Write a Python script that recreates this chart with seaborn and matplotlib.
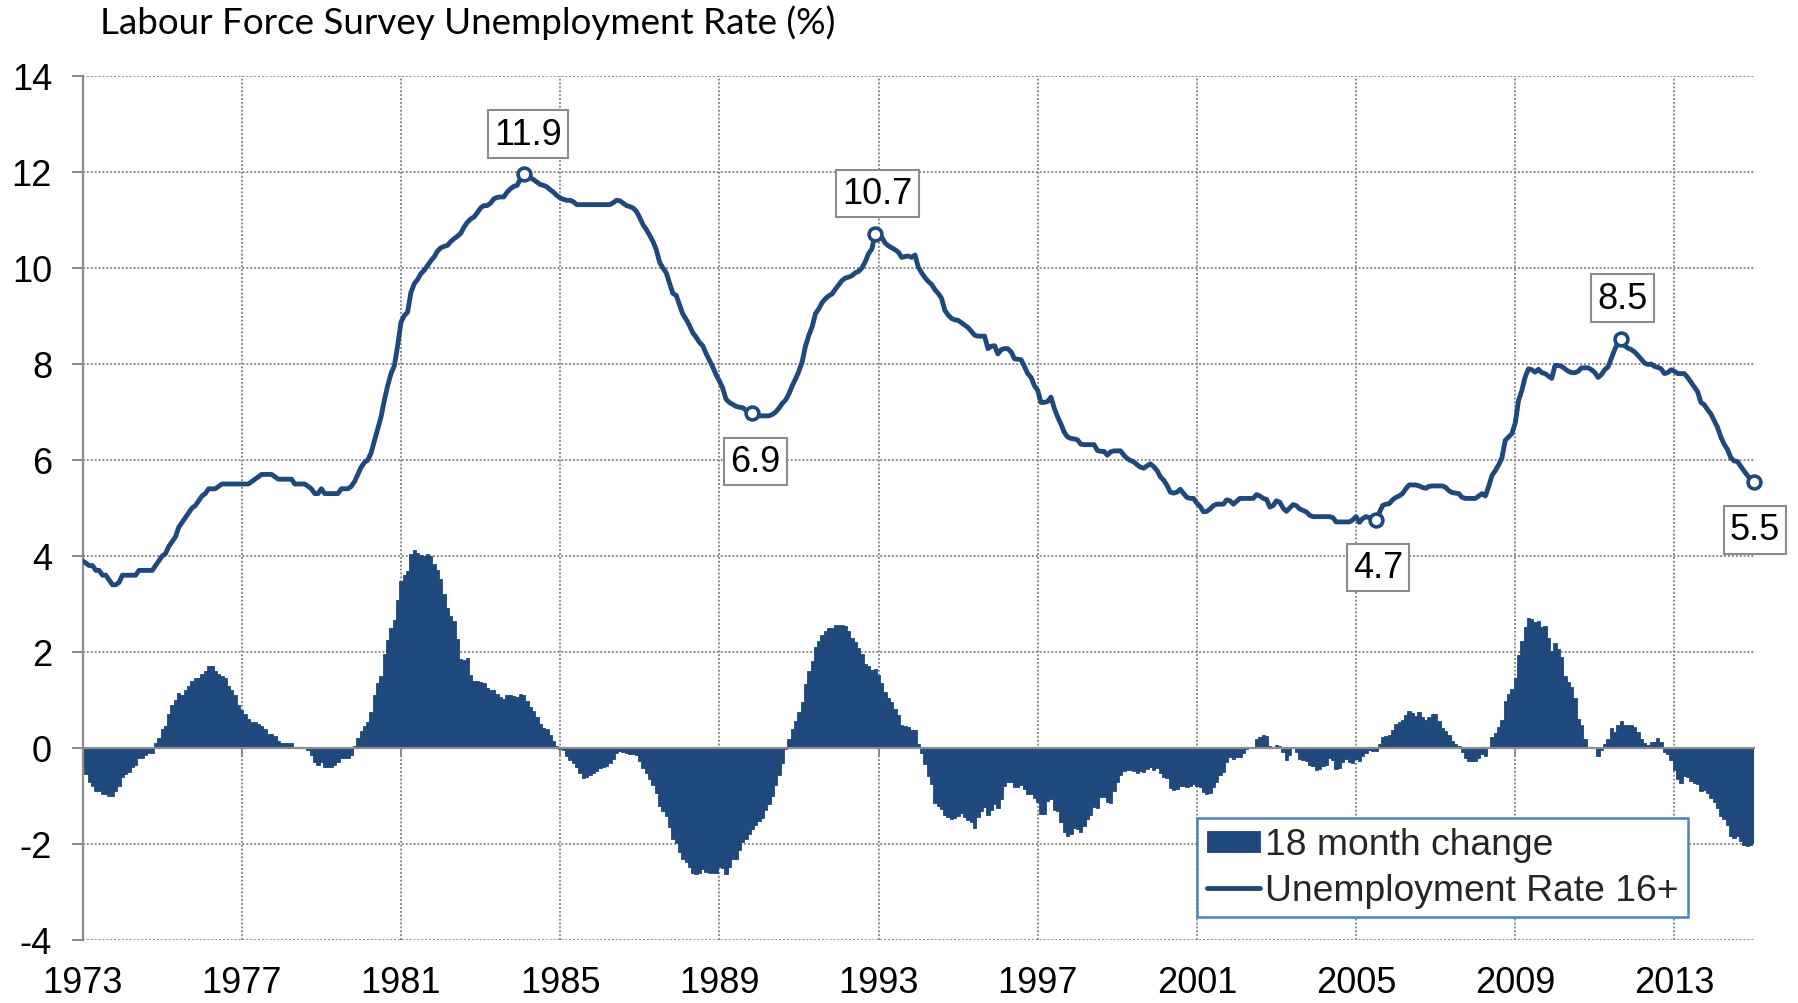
import numpy as np
import pandas as pd
import matplotlib
matplotlib.use("Agg")
import matplotlib.pyplot as plt
import seaborn as sns

# ---------------- data ----------------
# Unemployment rate 16+ (%), monthly, Jul 1971 - Dec 1972 (not drawn; base for the 18 month change)
rate_pre = [4.3, 4.4, 4.5, 4.6, 4.6, 4.6, 4.55, 4.55, 4.5, 4.4, 4.3, 4.25,
            4.2, 4.15, 4.1, 4.0, 3.95, 3.9]

# Unemployment rate 16+ (%), monthly, Jan 1973 - Jan 2015
rate = [
    3.9, 3.85, 3.8, 3.8, 3.7, 3.7, 3.6, 3.6, 3.5, 3.4, 3.4, 3.45,            # 1973
    3.6, 3.6, 3.6, 3.6, 3.6, 3.7, 3.7, 3.7, 3.7, 3.7, 3.8, 3.9,              # 1974
    4.0, 4.05, 4.2, 4.3, 4.4, 4.6, 4.7, 4.8, 4.9, 5.0, 5.05, 5.15,           # 1975
    5.25, 5.3, 5.4, 5.4, 5.4, 5.45, 5.5, 5.5, 5.5, 5.5, 5.5, 5.5,            # 1976
    5.5, 5.5, 5.5, 5.55, 5.6, 5.65, 5.7, 5.7, 5.7, 5.7, 5.65, 5.6,           # 1977
    5.6, 5.6, 5.6, 5.6, 5.5, 5.5, 5.5, 5.5, 5.45, 5.4, 5.3, 5.3,             # 1978
    5.4, 5.3, 5.3, 5.3, 5.3, 5.3, 5.4, 5.4, 5.4, 5.45, 5.55, 5.7,            # 1979
    5.85, 5.95, 6.0, 6.15, 6.4, 6.65, 6.9, 7.25, 7.55, 7.8, 7.96, 8.38,      # 1980
    8.87, 9.01, 9.08, 9.49, 9.67, 9.76, 9.88, 9.95, 10.05, 10.15, 10.23, 10.35,   # 1981
    10.42, 10.45, 10.47, 10.55, 10.61, 10.66, 10.72, 10.85, 10.95, 11.02, 11.06, 11.15,  # 1982
    11.25, 11.3, 11.3, 11.35, 11.44, 11.47, 11.48, 11.48, 11.58, 11.65, 11.7, 11.72,   # 1983
    11.85, 11.95, 11.93, 11.88, 11.84, 11.79, 11.74, 11.72, 11.69, 11.63, 11.58, 11.51,  # 1984
    11.46, 11.43, 11.41, 11.41, 11.38, 11.32, 11.32, 11.32, 11.32, 11.32, 11.32, 11.32,  # 1985
    11.32, 11.32, 11.32, 11.32, 11.36, 11.41, 11.4, 11.35, 11.3, 11.28, 11.25, 11.18,   # 1986
    11.05, 10.9, 10.8, 10.68, 10.55, 10.38, 10.12, 10.0, 9.9, 9.68, 9.47, 9.43,         # 1987
    9.23, 9.04, 8.93, 8.8, 8.65, 8.56, 8.45, 8.38, 8.22, 8.08, 7.94, 7.78,              # 1988
    7.65, 7.5, 7.27, 7.2, 7.16, 7.12, 7.1, 7.09, 7.04, 7.0, 6.97, 6.95,                 # 1989
    6.92, 6.92, 6.92, 6.92, 6.95, 7.0, 7.08, 7.18, 7.25, 7.38, 7.55, 7.69,              # 1990
    7.85, 8.05, 8.38, 8.6, 8.78, 9.05, 9.15, 9.28, 9.36, 9.42, 9.46, 9.56,              # 1991
    9.65, 9.74, 9.79, 9.81, 9.84, 9.9, 9.93, 10.0, 10.13, 10.3, 10.4, 10.7,             # 1992
    10.68, 10.64, 10.52, 10.46, 10.42, 10.38, 10.33, 10.22, 10.24, 10.25, 10.22, 10.27, # 1993
    10.02, 9.9, 9.8, 9.72, 9.66, 9.55, 9.47, 9.37, 9.12, 9.02, 8.95, 8.92,              # 1994
    8.91, 8.86, 8.81, 8.76, 8.68, 8.6, 8.58, 8.58, 8.58, 8.32, 8.37, 8.38,              # 1995
    8.21, 8.3, 8.32, 8.32, 8.25, 8.11, 8.1, 8.09, 7.95, 7.8, 7.72, 7.55,                # 1996
    7.45, 7.2, 7.2, 7.22, 7.31, 7.08, 6.9, 6.75, 6.58, 6.48, 6.45, 6.44,                # 1997
    6.42, 6.33, 6.32, 6.32, 6.32, 6.32, 6.2, 6.18, 6.18, 6.1, 6.17, 6.19,               # 1998
    6.19, 6.19, 6.1, 6.03, 5.99, 5.96, 5.9, 5.85, 5.83, 5.88, 5.92, 5.86,               # 1999
    5.78, 5.65, 5.58, 5.47, 5.33, 5.31, 5.33, 5.39, 5.3, 5.22, 5.2, 5.2,                # 2000
    5.1, 5.03, 4.92, 4.93, 4.98, 5.05, 5.08, 5.08, 5.08, 5.17, 5.15, 5.08,              # 2001
    5.14, 5.2, 5.2, 5.2, 5.2, 5.2, 5.28, 5.25, 5.2, 5.18, 5.02, 5.05,                   # 2002
    5.15, 5.12, 5.0, 4.93, 5.0, 5.07, 5.05, 4.98, 4.95, 4.92, 4.85, 4.82,               # 2003
    4.82, 4.82, 4.82, 4.82, 4.82, 4.8, 4.71, 4.71, 4.71, 4.71, 4.71, 4.75,              # 2004
    4.82, 4.7, 4.78, 4.82, 4.8, 4.76, 4.75, 4.9, 5.05, 5.08, 5.09, 5.17,                # 2005
    5.22, 5.25, 5.3, 5.4, 5.48, 5.48, 5.48, 5.46, 5.43, 5.41, 5.45, 5.46,               # 2006
    5.46, 5.46, 5.46, 5.43, 5.36, 5.32, 5.31, 5.3, 5.22, 5.2, 5.2, 5.2,                 # 2007
    5.2, 5.25, 5.3, 5.25, 5.45, 5.68, 5.78, 5.9, 6.05, 6.41, 6.48, 6.55,                # 2008
    6.77, 7.24, 7.45, 7.73, 7.9, 7.88, 7.83, 7.89, 7.82, 7.8, 7.75, 7.7,                # 2009
    7.97, 7.97, 7.95, 7.9, 7.85, 7.82, 7.82, 7.85, 7.92, 7.92, 7.92, 7.88,              # 2010
    7.82, 7.72, 7.78, 7.88, 7.94, 8.12, 8.3, 8.45, 8.52, 8.38, 8.33, 8.3,               # 2011
    8.25, 8.18, 8.1, 8.02, 7.99, 8.0, 7.95, 7.93, 7.9, 7.8, 7.82, 7.88,                 # 2012
    7.85, 7.8, 7.8, 7.8, 7.72, 7.62, 7.52, 7.42, 7.2, 7.15, 7.05, 6.96,                 # 2013
    6.82, 6.68, 6.48, 6.33, 6.22, 6.05, 5.98, 5.97, 5.87, 5.77, 5.68, 5.6,              # 2014
    5.54,                                                                               # 2015
]
start_month = "1973-01"

# labelled turning points (index into rate) and their labels
label_idx = [133, 202, 239, 390, 464, 504]
label_txt = ["11.9", "6.9", "10.7", "4.7", "8.5", "5.5"]

tick_years = [1973, 1977, 1981, 1985, 1989, 1993, 1997, 2001, 2005, 2009, 2013]
y_ticks = [-4, -2, 0, 2, 4, 6, 8, 10, 12, 14]

title = "Labour Force Survey Unemployment Rate (%)"
bar_name = "18 month change"
line_name = "Unemployment Rate 16+"

# ---------------- table ----------------
dates = pd.date_range(start_month, periods=len(rate), freq="MS")
year = dates.year + (dates.month - 1) / 12.0
full = np.array(rate_pre + rate)
change = full[18:] - full[:-18]
df = pd.DataFrame({"year": year, "rate": rate, "change": change})
pk = df.iloc[label_idx].copy()
pk["label"] = label_txt

# ---------------- style ----------------
sns.set_theme(style="white")
plt.rcParams["font.family"] = ["Liberation Sans", "DejaVu Sans"]
plt.rcParams["axes.unicode_minus"] = False

BLUE = "#1F497D"
GRID = "#8C8C8C"

fig = plt.figure(figsize=(17.98, 10.04), dpi=100)
ax = fig.add_axes([0.04594, 0.06275, 0.92959, 0.86056])

sns.barplot(data=df, x="year", y="change", native_scale=True, width=1.0,
            color=BLUE, saturation=1, errorbar=None, edgecolor=BLUE,
            linewidth=0.6, label=bar_name, ax=ax, zorder=2)
sns.lineplot(data=df, x="year", y="rate", color=BLUE, linewidth=3.5,
             errorbar=None, label=line_name, ax=ax, zorder=3)
sns.scatterplot(data=pk, x="year", y="rate", marker="o", s=85,
                facecolor="white", edgecolor=BLUE, linewidth=2.6,
                ax=ax, zorder=4, clip_on=False, legend=False)

offsets = [(3, 29), (2, -34.5), (1.5, 29.5), (1.5, -34), (0.7, 29.5), (0.7, -34.5)]
for (_, r), off in zip(pk.iterrows(), offsets):
    ax.annotate(r["label"], (r["year"], r["rate"]), xytext=off,
                textcoords="offset points", ha="center", va="center",
                fontsize=26, color="black", annotation_clip=False, zorder=6,
                bbox=dict(boxstyle="square,pad=0.17", fc="white", ec=GRID, lw=1.5))

ax.set_xlim(1973, 2015)
ax.set_ylim(-4, 14)
ax.set_yticks(y_ticks)
ax.set_yticklabels([str(v) for v in y_ticks])
ax.set_xticks(tick_years)
ax.set_xlabel("")
ax.set_ylabel("")

ax.set_axisbelow(True)
ax.grid(True, color=GRID, linestyle=(0, (1, 1)), linewidth=1.4)

for s in ["top", "right"]:
    ax.spines[s].set_visible(False)
ax.spines["left"].set_color(GRID)
ax.spines["left"].set_linewidth(1.6)
ax.spines["bottom"].set_position(("data", 0))
ax.spines["bottom"].set_color(GRID)
ax.spines["bottom"].set_linewidth(1.6)
ax.spines["bottom"].set_zorder(2.5)

ax.tick_params(axis="x", direction="out", length=6, width=1.5, color=GRID,
               labelbottom=False, bottom=True)
ax.tick_params(axis="y", direction="out", length=8, width=1.5, color=GRID,
               labelsize=26, pad=14, labelcolor="black", left=True)

sec = ax.secondary_xaxis("bottom")
sec.set_xticks(tick_years)
sec.set_xticklabels([str(y) for y in tick_years])
sec.tick_params(length=0, pad=18, labelsize=26, labelcolor="black")
sec.spines["bottom"].set_visible(False)

handles, labels = ax.get_legend_handles_labels()
order = [labels.index(bar_name), labels.index(line_name)]
leg = ax.legend([handles[i] for i in order], [labels[i] for i in order],
                loc="upper left", bbox_to_anchor=(0.667, 0.141),
                borderaxespad=0, frameon=True, fancybox=False, framealpha=1,
                edgecolor="#4F81BD", facecolor="white", fontsize=26.8,
                handlelength=1.42, handleheight=0.5, handletextpad=0.15,
                labelspacing=0.28, borderpad=0.25)
leg.get_frame().set_linewidth(1.8)
leg.set_zorder(7)

fig.text(100 / 1798, 1 - 34.5 / 1004, title, fontsize=26.5,
         family=["Lato", "DejaVu Sans"], ha="left", va="baseline", color="black")

fig.savefig("out.png", dpi=100)
